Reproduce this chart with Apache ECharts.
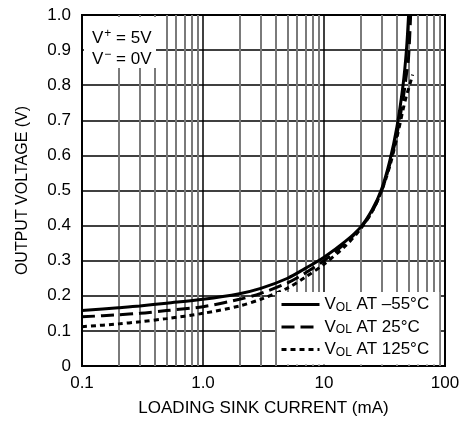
<!DOCTYPE html>
<html>
<head>
<meta charset="utf-8">
<script src="https://cdn.jsdelivr.net/npm/echarts@6/dist/echarts.min.js"></script>
<style>
html,body{margin:0;padding:0;background:#fff;}
#c{width:469px;height:423px;}
</style>
</head>
<body>
<div id="c"></div>
<script>
// Data (current in mA, output voltage in V)
const currentMA = [0.1, 0.2, 0.3, 0.5, 1, 2, 3, 5, 7, 10, 15, 20, 25, 30, 35, 40, 45, 48, 50, 52, 54];
const vM55  = [0.158, 0.166, 0.171, 0.179, 0.190, 0.206, 0.221, 0.250, 0.278, 0.310, 0.355, 0.395, 0.445, 0.505, 0.585, 0.680, 0.800, 0.900, 1.000, null, null];
const v25   = [0.140, 0.146, 0.150, 0.158, 0.169, 0.190, 0.207, 0.237, 0.265, 0.300, 0.350, 0.393, 0.440, 0.500, 0.575, 0.660, 0.760, 0.830, 0.880, 1.000, null];
const v125  = [0.112, 0.120, 0.126, 0.135, 0.150, 0.171, 0.190, 0.222, 0.253, 0.290, 0.342, 0.390, 0.440, 0.500, 0.570, 0.650, 0.730, 0.770, 0.790, 0.810, 0.830];
const seriesTemps = ['–55', '25', '125'];
const xTickLabels = ['0.1', '1.0', '10', '100'];
const yTickLabels = ['0', '0.1', '0.2', '0.3', '0.4', '0.5', '0.6', '0.7', '0.8', '0.9', '1.0'];
const minorX = [0.2,0.3,0.4,0.5,0.6,0.7,0.8,0.9, 2,3,4,5,6,7,8,9, 20,30,40,50,60,70,80,90];

const FONT = "'Liberation Sans', Arial, sans-serif";

function pairs(vals){
  const out = [];
  for (let i = 0; i < currentMA.length; i++) if (vals[i] != null) out.push([currentMA[i], vals[i]]);
  return out;
}

const chart = echarts.init(document.getElementById('c'), null, {renderer: 'canvas'});
const dashTypes = ['solid', [13, 6], [5, 4]];
const allVals = [vM55, v25, v125];

const series = seriesTemps.map((t, i) => ({
  name: t,
  type: 'line',
  smooth: 0.3,
  symbol: 'none',
  data: pairs(allVals[i]),
  lineStyle: {color: '#000', width: 3, type: dashTypes[i]},
  itemStyle: {color: '#000'},
  z: 3
}));
series[0].markLine = {
  silent: true,
  symbol: 'none',
  label: {show: false},
  animation: false,
  lineStyle: {color: '#7a7a7a', width: 2, type: 'solid'},
  data: minorX.map(v => ({xAxis: v})),
  z: 1
};

chart.setOption({
  animation: false,
  backgroundColor: '#fff',
  textStyle: {fontFamily: FONT, color: '#000'},
  grid: {left: 82, right: 24, top: 15, bottom: 57, show: true, borderColor: '#000', borderWidth: 2, backgroundColor: 'transparent'},
  xAxis: {
    type: 'log', logBase: 10, min: 0.1, max: 100,
    name: 'LOADING SINK CURRENT (mA)', nameLocation: 'middle', nameGap: 34,
    nameTextStyle: {fontSize: 17, fontFamily: FONT, color: '#000'},
    axisLine: {show: true, lineStyle: {color: '#000', width: 2}},
    axisTick: {show: false},
    axisLabel: {fontSize: 17, fontFamily: FONT, color: '#000', margin: 9,
      formatter: v => { const k = Math.round(Math.log10(v)) + 1; return xTickLabels[k]; }},
    splitLine: {show: true, lineStyle: {color: '#000', width: 1.5}}
  },
  yAxis: {
    type: 'value', min: 0, max: 1, interval: 0.1,
    name: 'OUTPUT VOLTAGE (V)', nameLocation: 'middle', nameGap: 51,
    nameTextStyle: {fontSize: 16, fontFamily: FONT, color: '#000'},
    axisLine: {show: true, lineStyle: {color: '#000', width: 2}},
    axisTick: {show: false},
    axisLabel: {fontSize: 17, fontFamily: FONT, color: '#000', margin: 11,
      formatter: v => yTickLabels[Math.round(v * 10)]},
    splitLine: {show: true, lineStyle: {color: '#000', width: 1.5}}
  },
  legend: {
    orient: 'vertical', left: 277, top: 292,
    backgroundColor: '#fff',
    padding: [4, 10, 6, 3],
    itemGap: 5, itemWidth: 38, itemHeight: 14,
    itemStyle: {opacity: 0},
    lineStyle: {width: 3, color: '#000'},
    data: seriesTemps,
    formatter: name => '{a|V}{s|OL}{a| AT ' + name + '°C}',
    textStyle: {fontFamily: FONT, fontSize: 17, color: '#000',
      rich: {a: {fontSize: 17, fontFamily: FONT, color: '#000'},
             s: {fontSize: 12, fontFamily: FONT, color: '#000', verticalAlign: 'bottom', padding: [6, 0, 0, 0]}}}
  },
  graphic: [
    {type: 'rect', z: 100, shape: {x: 84, y: 17, width: 72, height: 51}, style: {fill: '#fff'}},
    {type: 'text', z: 101, x: 92, y: 28, style: {
      text: '{a|V}{p|+}{a| = 5V}\n{a|V}{p|−}{a| = 0V}',
      rich: {a: {fontSize: 17, fontFamily: FONT, fill: '#000', lineHeight: 21},
             p: {fontSize: 12, fontFamily: FONT, fill: '#000', verticalAlign: 'top', padding: [0, 0, 6, 1], lineHeight: 21}}
    }}
  ],
  series: series
});
</script>
</body>
</html>
